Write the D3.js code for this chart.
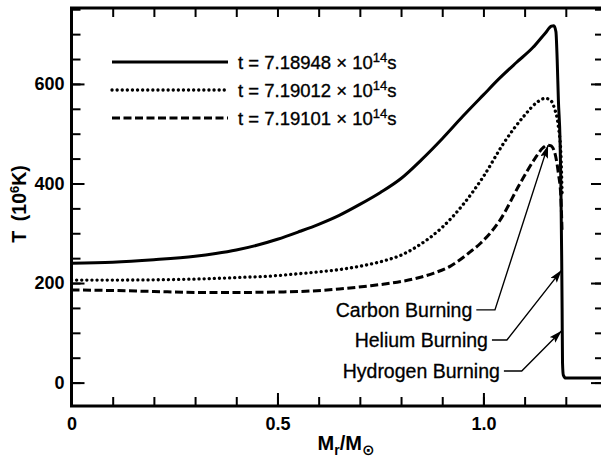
<!DOCTYPE html>
<html><head><meta charset="utf-8">
<script src="https://cdn.jsdelivr.net/npm/d3@7"></script>
<style>body{margin:0;background:#fff}svg{display:block}</style>
</head><body>
<svg id="c" width="601" height="459"></svg>
<script>
// ---- data ----
const solidX  = [0,0.1,0.2,0.3,0.35,0.4,0.45,0.5,0.555,0.6,0.65,0.7,0.75,0.8,0.85,0.9,0.95,1.0,1.04,1.08,1.12,1.15,1.165,1.171,1.176,1.179,1.182,1.186,1.188,1.190,1.191,1.192,1.194,1.2,1.3];
const solidT  = [240,242,247,254,259.5,266.5,276,288,304,318,336,358,382,410,448,490,535,578,612,643,673,702,716,717,705,650,567,487,400,250,150,40,15,9,9];
const dottedX = [0,0.1,0.2,0.3,0.4,0.5,0.555,0.65,0.72,0.76,0.8,0.84,0.9,0.95,1.0,1.05,1.1,1.13,1.15,1.162,1.172,1.182,1.188,1.191];
const dottedT = [206,206,206.5,208,211,215,219,227,237,245,256,274,312,357,414,482,537,563,571,568,552,514,460,380];
const dashedX = [0,0.1,0.2,0.31,0.4,0.5,0.555,0.65,0.72,0.76,0.8,0.84,0.88,0.92,0.967,0.993,1.04,1.089,1.125,1.145,1.155,1.163,1.172,1.182,1.188,1.191];
const dashedT = [186,185,183,181,181,182,183,188,194,198,203,210,220,234,262,280,326,400,450,472,477,476,465,420,373,300];
const times   = ["7.18948","7.19012","7.19101"];
const xTicks = [0,0.1,0.2,0.3,0.4,0.5,0.6,0.7,0.8,0.9,1.0,1.1,1.2];
const xLabelTicks = [0,0.5,1.0];
const xLabels = ["0","0.5","1.0"];
const yTicks = [0,50,100,150,200,250,300,350,400,450,500,550,600,650,700,750];
const yLabelTicks = [0,200,400,600];
const yLabels = ["0","200","400","600"];
// annotations: label, text-end/leader (mass, T), leader end mass, arrow tip (mass, T)
const annLabels = ["Carbon Burning","Helium Burning","Hydrogen Burning"];
const annTextEnd = [0.973,1.011,1.040];
const annLeaderT = [146,85.6,23.3];
const annKneeX   = [1.028,1.057,1.093];
const annTipX    = [1.157,1.190,1.190];
const annTipT    = [477,226,104];

// ---- drawing ----
const svg = d3.select("#c");
const x = d3.scaleLinear().domain([0,1.2915]).range([71.5,603.5]);
const y = d3.scaleLinear().domain([-47,752.5]).range([406,8]);
const FONT = "'Liberation Sans', Arial, Helvetica, sans-serif";

const line = d3.line().x(d=>x(d[0])).y(d=>y(d[1])).curve(d3.curveMonotoneX);
const series = [
  {xs:solidX, ts:solidT, dash:null, cap:"butt", w:3},
  {xs:dottedX, ts:dottedT, dash:"0.1 5", cap:"round", w:3.3},
  {xs:dashedX, ts:dashedT, dash:"8 3.5", cap:"butt", w:3}
];

// axes
function styleAxis(g){
  g.select(".domain").remove();
  g.selectAll(".tick line").attr("stroke","#000").attr("stroke-width",2);
  g.selectAll(".tick text").attr("font-family",FONT).attr("font-weight","bold")
   .attr("font-size",18).attr("fill","#000");
}
svg.append("g").attr("transform","translate(0,406)")
  .call(d3.axisBottom(x).tickValues(xTicks).tickSize(-9).tickFormat(""))
  .call(styleAxis);
svg.append("g").attr("transform","translate(0,406)")
  .call(d3.axisBottom(x).tickValues(xLabelTicks).tickSize(-13).tickPadding(11).tickFormat((d,i)=>xLabels[i]))
  .call(styleAxis);
svg.append("g").attr("transform","translate(0,8)")
  .call(d3.axisTop(x).tickValues(xTicks).tickSize(-9).tickFormat(""))
  .call(styleAxis);
svg.append("g").attr("transform","translate(71.5,0)")
  .call(d3.axisLeft(y).tickValues(yTicks).tickSize(-9).tickFormat(""))
  .call(styleAxis);
svg.append("g").attr("transform","translate(71.5,0)")
  .call(d3.axisLeft(y).tickValues(yLabelTicks).tickSize(-13).tickPadding(7).tickFormat((d,i)=>yLabels[i]))
  .call(styleAxis);
svg.append("g").attr("transform","translate(604,0)")
  .call(d3.axisRight(y).tickValues(yTicks).tickSize(-9).tickFormat(""))
  .call(styleAxis);
svg.append("g").attr("transform","translate(604,0)")
  .call(d3.axisRight(y).tickValues(yLabelTicks).tickSize(-13).tickFormat(""))
  .call(styleAxis);

// curves
series.forEach(s=>{
  svg.append("path").datum(s.xs.map((v,i)=>[v,s.ts[i]]))
    .attr("d",line).attr("fill","none").attr("stroke","#000")
    .attr("stroke-width",s.w).attr("stroke-linecap",s.cap)
    .attr("stroke-linejoin","round")
    .attr("stroke-dasharray",s.dash);
});

// frame
svg.append("rect").attr("x",x(0)).attr("y",8).attr("width",604-x(0)).attr("height",398)
  .attr("fill","none").attr("stroke","#000").attr("stroke-width",3);

// legend
const legY = [62,90,118];
series.forEach((s,i)=>{
  svg.append("line").attr("x1",112).attr("x2",228).attr("y1",legY[i]).attr("y2",legY[i])
    .attr("stroke","#000").attr("stroke-width",s.w).attr("stroke-linecap",s.cap)
    .attr("stroke-dasharray",s.dash);
  const t = svg.append("text").attr("x",238).attr("y",legY[i]+6.5)
    .attr("font-family",FONT).attr("font-size",18.5).attr("fill","#000")
    .attr("stroke","#000").attr("stroke-width",0.35);
  t.append("tspan").text("t = "+times[i]+" \u00d7 10");
  t.append("tspan").attr("font-size",13).attr("dy",-7).text("14");
  t.append("tspan").attr("dy",7).text("s");
});

// axis titles
const yt = svg.append("text").attr("transform","translate(26,204) rotate(-90)")
  .attr("text-anchor","middle").attr("font-family",FONT).attr("font-weight","bold")
  .attr("font-size",19.5).attr("fill","#000");
yt.append("tspan").text("T\u2002(10");
yt.append("tspan").attr("font-size",13).attr("dy",-7).text("6");
yt.append("tspan").attr("dy",7).text("K)");

const xt = svg.append("text").attr("x",346).attr("y",450)
  .attr("text-anchor","middle").attr("font-family",FONT).attr("font-weight","bold")
  .attr("font-size",20).attr("fill","#000");
xt.append("tspan").text("M");
xt.append("tspan").attr("font-size",14).attr("dy",5).text("r");
xt.append("tspan").attr("dy",-5).text("/M");
xt.append("tspan").attr("font-size",15).attr("dy",5).attr("font-family","'DejaVu Sans', sans-serif").text("\u2299");

// annotations
const defs = svg.append("defs");
defs.append("marker").attr("id","ah").attr("viewBox","0 0 13 8").attr("refX",13).attr("refY",4)
  .attr("markerWidth",13).attr("markerHeight",8).attr("markerUnits","userSpaceOnUse")
  .attr("orient","auto").append("path").attr("d","M0,0 L13,4 L0,8 L2.5,4 Z").attr("fill","#000");
annLabels.forEach((lab,i)=>{
  const ly = y(annLeaderT[i]);
  svg.append("text").attr("x",x(annTextEnd[i])).attr("y",ly+7).attr("text-anchor","end")
    .attr("font-family",FONT).attr("font-size",19.5).attr("fill","#000")
    .attr("stroke","#000").attr("stroke-width",0.3).text(lab);
  svg.append("path")
    .attr("d",`M${x(annTextEnd[i])+4},${ly} L${x(annKneeX[i])},${ly} L${x(annTipX[i])},${y(annTipT[i])}`)
    .attr("fill","none").attr("stroke","#000").attr("stroke-width",1.4).attr("marker-end","url(#ah)");
});
</script>
</body></html>
